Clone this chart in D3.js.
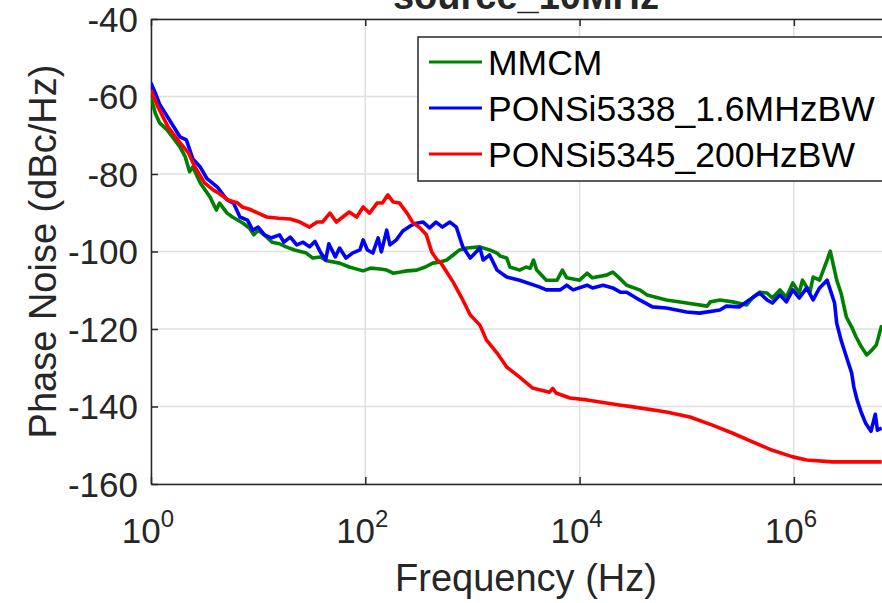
<!DOCTYPE html>
<html>
<head>
<meta charset="utf-8">
<script src="https://cdn.jsdelivr.net/npm/d3@7"></script>
<style>
  body { margin: 0; background: #fff; }
  text { font-family: "Liberation Sans", Arial, sans-serif; fill: #262626; }
</style>
</head>
<body>
<svg id="chart" width="882" height="603"></svg>
<script>
// Values: [log10(frequency in Hz), phase noise in dBc/Hz]
const mmcm = [
  [0, -60.2], [0.04, -64.3], [0.08, -66.8], [0.15, -68.6], [0.2, -70.4], [0.27, -73.0],
  [0.32, -75.6], [0.36, -79.4], [0.39, -78.2], [0.46, -82.3], [0.55, -85.9], [0.61, -89.3],
  [0.64, -87.5], [0.71, -90.1], [0.76, -91.1], [0.86, -92.7], [0.92, -94.0], [0.96, -95.7],
  [1.0, -94.5], [1.08, -96.3], [1.13, -97.6], [1.2, -98.0], [1.26, -98.8], [1.34, -99.6],
  [1.45, -100.4], [1.51, -101.7], [1.58, -101.4], [1.64, -102.4], [1.76, -103.0], [1.85, -104.0],
  [1.98, -105.0], [2.05, -104.3], [2.14, -104.5], [2.2, -104.8], [2.26, -105.6], [2.33, -105.3],
  [2.39, -105.0], [2.48, -104.8], [2.56, -104.0], [2.63, -103.0], [2.7, -102.7], [2.76, -102.2],
  [2.82, -100.9], [2.88, -99.6], [2.95, -99.1], [3.07, -98.8], [3.16, -99.6], [3.23, -100.4],
  [3.26, -101.2], [3.32, -101.7], [3.35, -104.0], [3.44, -104.8], [3.5, -104.0], [3.54, -104.3],
  [3.57, -102.2], [3.6, -104.8], [3.69, -107.4], [3.79, -107.4], [3.84, -104.8], [3.88, -106.8],
  [4.0, -107.4], [4.07, -105.6], [4.12, -106.8], [4.25, -106.1], [4.31, -105.3], [4.37, -106.8],
  [4.44, -108.7], [4.56, -109.9], [4.63, -111.2], [4.81, -112.5], [5.0, -113.3], [5.19, -114.1],
  [5.22, -113.0], [5.31, -112.5], [5.43, -113.0], [5.56, -113.8], [5.62, -111.8], [5.68, -110.5],
  [5.75, -110.7], [5.8, -112.0], [5.87, -109.9], [5.93, -111.8], [5.99, -108.1], [6.05, -110.7],
  [6.08, -107.4], [6.15, -110.5], [6.18, -106.6], [6.24, -107.4], [6.31, -102.2], [6.34, -99.9],
  [6.4, -107.4], [6.44, -110.7], [6.49, -116.9], [6.54, -119.5], [6.58, -122.0], [6.63, -124.6],
  [6.68, -126.7], [6.73, -125.4], [6.77, -124.1], [6.82, -119.0]
];

const pon5338 = [
  [0, -56.5], [0.04, -59.1], [0.08, -62.0], [0.18, -66.4], [0.27, -70.4], [0.33, -71.2],
  [0.39, -76.1], [0.46, -78.2], [0.52, -81.1], [0.62, -83.4], [0.71, -86.7], [0.77, -87.5],
  [0.83, -91.1], [0.9, -91.9], [0.95, -94.5], [1.0, -93.7], [1.06, -95.7], [1.12, -96.5],
  [1.2, -95.7], [1.24, -97.6], [1.3, -96.3], [1.36, -98.3], [1.42, -97.6], [1.48, -98.8],
  [1.53, -97.4], [1.58, -100.1], [1.63, -102.2], [1.66, -98.0], [1.72, -101.4], [1.76, -99.1],
  [1.82, -101.7], [1.88, -100.4], [1.95, -99.6], [1.98, -97.0], [2.02, -99.6], [2.07, -100.4],
  [2.12, -96.5], [2.15, -100.1], [2.2, -94.5], [2.23, -98.3], [2.29, -97.0], [2.35, -94.7],
  [2.42, -93.4], [2.48, -92.7], [2.54, -92.4], [2.6, -93.9], [2.66, -92.4], [2.72, -93.7],
  [2.79, -92.4], [2.85, -93.7], [2.91, -98.8], [2.98, -101.7], [3.07, -99.1], [3.1, -102.2],
  [3.16, -100.9], [3.23, -104.8], [3.32, -106.6], [3.44, -107.4], [3.63, -109.2], [3.69, -109.9],
  [3.82, -109.9], [3.88, -108.7], [3.94, -109.9], [4.07, -108.7], [4.12, -109.4], [4.22, -108.7],
  [4.31, -109.4], [4.38, -110.5], [4.44, -110.5], [4.56, -112.5], [4.68, -114.3], [4.81, -114.6],
  [5.0, -115.6], [5.12, -115.9], [5.31, -115.1], [5.37, -114.1], [5.49, -114.3], [5.62, -111.8],
  [5.68, -110.7], [5.75, -112.5], [5.8, -113.3], [5.87, -111.2], [5.93, -113.0], [5.99, -109.9],
  [6.05, -112.0], [6.12, -109.4], [6.18, -112.5], [6.24, -109.4], [6.31, -107.4], [6.38, -113.3],
  [6.4, -118.5], [6.44, -122.8], [6.47, -125.4], [6.5, -128.0], [6.54, -131.4], [6.56, -135.0],
  [6.59, -138.3], [6.63, -141.6], [6.67, -144.3], [6.72, -146.4], [6.76, -142.0], [6.78, -146.1],
  [6.82, -145.6]
];

const pon5345 = [
  [0, -58.3], [0.065, -62.7], [0.16, -67.9], [0.25, -71.2], [0.35, -74.6], [0.41, -78.2],
  [0.5, -82.3], [0.58, -84.1], [0.63, -84.9], [0.72, -86.7], [0.81, -87.5], [0.85, -88.5],
  [0.92, -89.1], [1.0, -90.1], [1.08, -91.1], [1.19, -91.4], [1.3, -91.6], [1.39, -92.4],
  [1.48, -93.7], [1.55, -92.4], [1.6, -92.4], [1.67, -90.1], [1.73, -92.4], [1.79, -91.1],
  [1.85, -89.8], [1.92, -91.1], [1.98, -88.5], [2.04, -90.1], [2.11, -87.5], [2.16, -87.5],
  [2.21, -85.4], [2.26, -87.2], [2.32, -87.5], [2.39, -90.1], [2.44, -92.4], [2.51, -93.9],
  [2.57, -95.7], [2.62, -100.1], [2.67, -102.2], [2.7, -102.7], [2.76, -105.3], [2.82, -107.9],
  [2.91, -112.5], [2.98, -116.4], [3.07, -119.0], [3.13, -122.8], [3.23, -126.2], [3.32, -129.8],
  [3.44, -132.4], [3.56, -135.2], [3.72, -136.3], [3.75, -135.3], [3.78, -136.5], [3.91, -137.8],
  [4.07, -138.3], [4.25, -139.1], [4.37, -139.6], [4.5, -140.1], [4.81, -141.4], [5.03, -142.7],
  [5.24, -144.8], [5.43, -146.9], [5.62, -149.2], [5.8, -151.3], [5.99, -153.0], [6.12, -153.8],
  [6.36, -154.3], [6.82, -154.3]
];

const seriesNames = ["MMCM", "PONSi5338_1.6MHzBW", "PONSi5345_200HzBW"];
const seriesColors = ["#008000", "#0000ff", "#ff0000"];
const xTickExps = [0, 2, 4, 6];
const yTicks = [-160, -140, -120, -100, -80, -60, -40];

const svg = d3.select("#chart");
// plot box edges in px
const box = { left: 151, right: 901, top: 19, bottom: 484 };

const x = d3.scaleLog().domain([1, 1e7]).range([box.left, box.right]);
const y = d3.scaleLinear().domain([-160, -40]).range([box.bottom, box.top]);

svg.append("defs").append("clipPath").attr("id", "plotClip")
  .append("rect").attr("x", box.left).attr("y", box.top)
  .attr("width", box.right - box.left).attr("height", box.bottom - box.top);

// Grid
const grid = svg.append("g");
grid.selectAll("line.gx").data(xTickExps).join("line")
  .attr("class", "gx")
  .attr("x1", d => x(10 ** d)).attr("x2", d => x(10 ** d))
  .attr("y1", box.top).attr("y2", box.bottom)
  .attr("stroke", "#dfdfdf").attr("stroke-width", 1.5);
grid.selectAll("line.gy").data(yTicks).join("line")
  .attr("class", "gy")
  .attr("x1", box.left).attr("x2", box.right)
  .attr("y1", d => y(d)).attr("y2", d => y(d))
  .attr("stroke", "#dfdfdf").attr("stroke-width", 1.5);

// Axes (box with inward ticks)
const tickLen = 7;
const axisColor = "#262626";
const xTickVals = xTickExps.map(e => 10 ** e);
const xAxisB = d3.axisBottom(x).tickValues(xTickVals)
  .tickSizeInner(-tickLen).tickSizeOuter(0).tickFormat("");
const xAxisT = d3.axisTop(x).tickValues(xTickVals)
  .tickSizeInner(-tickLen).tickSizeOuter(0).tickFormat("");
const yAxisL = d3.axisLeft(y).tickValues(yTicks)
  .tickSizeInner(-tickLen).tickSizeOuter(0).tickFormat("");

svg.append("g").attr("transform", `translate(0,${box.bottom})`).call(xAxisB);
svg.append("g").attr("transform", `translate(0,${box.top})`).call(xAxisT);
svg.append("g").attr("transform", `translate(${box.left},0)`).call(yAxisL);
svg.selectAll(".domain, .tick line").attr("stroke", axisColor).attr("stroke-width", 1.5);

// Data lines
const line = d3.line()
  .x(d => x(10 ** d[0]))
  .y(d => y(d[1]));

const plot = svg.append("g").attr("clip-path", "url(#plotClip)");
[mmcm, pon5338, pon5345].forEach((s, i) => {
  plot.append("path")
    .datum(s)
    .attr("fill", "none")
    .attr("stroke", seriesColors[i])
    .attr("stroke-width", 3.6)
    .attr("stroke-linejoin", "round")
    .attr("d", line);
});

// Tick labels
svg.selectAll("text.ytl").data(yTicks).join("text")
  .attr("class", "ytl")
  .attr("x", box.left - 13).attr("y", d => y(d))
  .attr("dy", "0.36em")
  .attr("text-anchor", "end")
  .style("font-size", "35px")
  .text(d => String(d));

const xtl = svg.selectAll("text.xtl").data(xTickExps).join("text")
  .attr("class", "xtl")
  .attr("x", d => x(10 ** d) - 3).attr("y", 543)
  .attr("text-anchor", "middle")
  .style("font-size", "35px");
xtl.append("tspan").text("10");
xtl.append("tspan").attr("dy", -16).style("font-size", "24px").text(d => d);

// Axis labels and title
svg.append("text")
  .attr("x", (box.left + box.right) / 2).attr("y", 591)
  .attr("text-anchor", "middle")
  .style("font-size", "38px")
  .text("Frequency (Hz)");

svg.append("text")
  .attr("transform", `translate(56,${(box.top + box.bottom) / 2}) rotate(-90)`)
  .attr("text-anchor", "middle")
  .style("font-size", "38px")
  .text("Phase Noise (dBc/Hz)");

svg.append("text")
  .attr("x", (box.left + box.right) / 2).attr("y", 9)
  .attr("text-anchor", "middle")
  .style("font-size", "38px").style("font-weight", "bold")
  .text("source_10MHz");

// Legend
const legend = svg.append("g");
legend.append("rect")
  .attr("x", 418).attr("y", 37).attr("width", 500).attr("height", 144)
  .attr("fill", "#fff").attr("stroke", axisColor).attr("stroke-width", 1.5);
const legendRows = legend.selectAll("g.row").data(seriesNames).join("g")
  .attr("class", "row")
  .attr("transform", (d, i) => `translate(0,${62 + i * 46})`);
legendRows.append("line")
  .attr("x1", 429).attr("x2", 482)
  .attr("stroke", (d, i) => seriesColors[i]).attr("stroke-width", 3.2);
legendRows.append("text")
  .attr("x", 488).attr("dy", "0.36em")
  .style("font-size", "35.5px")
  .style("fill", "#000")
  .text(d => d);
</script>
</body>
</html>
